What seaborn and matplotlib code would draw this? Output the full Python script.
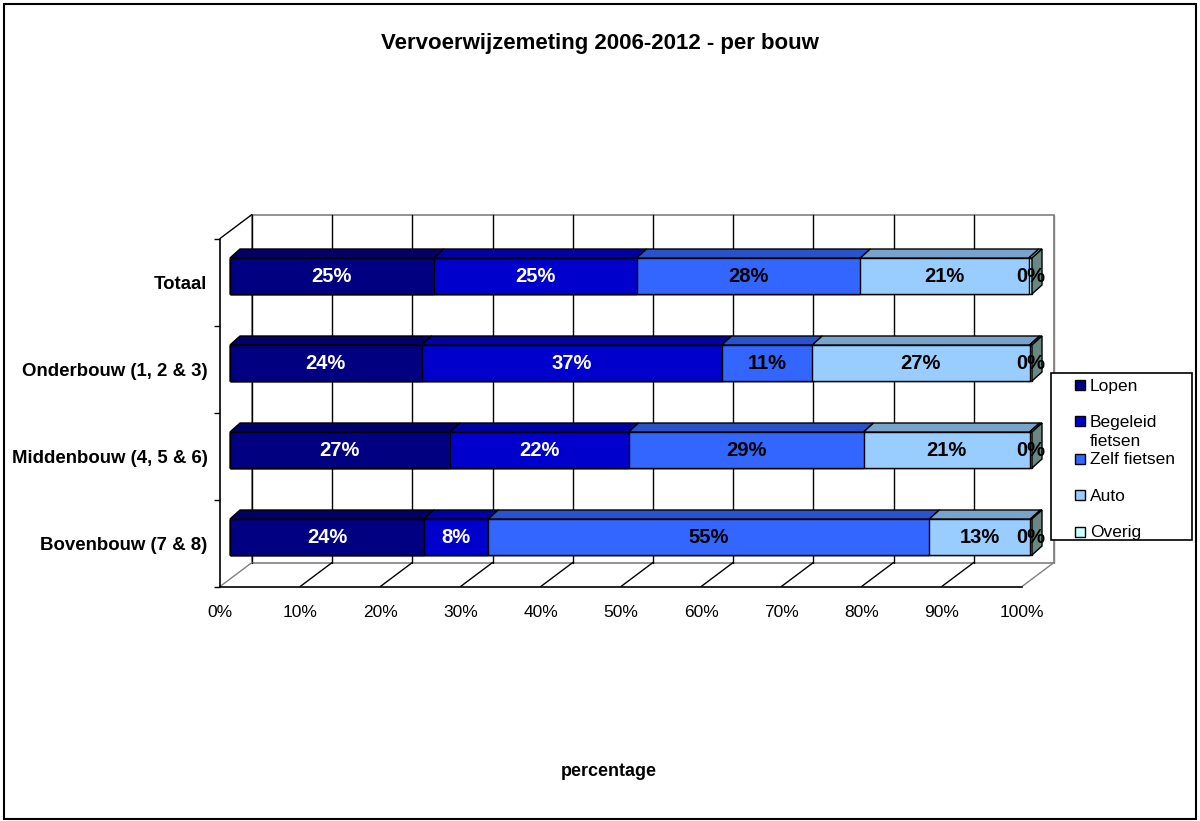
import numpy as np
import pandas as pd
import seaborn as sns
import matplotlib.pyplot as plt
from matplotlib.patches import Polygon, Rectangle

# data (percent per mode, per school section)
categories = ["Totaal", "Onderbouw (1, 2 & 3)", "Middenbouw (4, 5 & 6)", "Bovenbouw (7 & 8)"]
modes = ["Lopen", "Begeleid fietsen", "Zelf fietsen", "Auto", "Overig"]
lopen = [25.4, 23.9, 27.4, 24.2]
begeleid = [25.3, 37.4, 22.3, 8.0]
zelf = [27.9, 11.3, 29.3, 55.0]
auto = [21.0, 27.1, 20.7, 12.6]
overig = [0.4, 0.3, 0.3, 0.2]
xticks = [0, 10, 20, 30, 40, 50, 60, 70, 80, 90, 100]

front_cols = ["#000080", "#0000CC", "#3366FF", "#99CCFF", "#CCFFFF"]
top_cols = ["#000066", "#0000A3", "#2952CC", "#7AA3CC", "#A3CCCC"]
side_col = "#6A8783"
text_cols = ["white", "white", "black", "black", "black"]

df = pd.DataFrame({"bouw": categories, "Lopen": lopen, "Begeleid fietsen": begeleid,
                   "Zelf fietsen": zelf, "Auto": auto, "Overig": overig})
cum = df[modes].cumsum(axis=1)

sns.set_theme(style="white")
plt.rcParams["font.family"] = ["Liberation Sans", "DejaVu Sans"]
plt.rcParams.update({"text.color": "black", "axes.labelcolor": "black",
                     "xtick.color": "black", "ytick.color": "black"})

W, H = 1200, 821
fig = plt.figure(figsize=(W / 100, H / 100), dpi=100)

# pixel layout of the pseudo-3D box
X0, SX = 230, 8.02      # 0% of the bar front face, px per percent
Y0, SY = 276, 87        # first bar centre, px per category
FDX, FDY = -10 / SX, 6 / SY     # frame front plane offset
BDX, BDY = 22 / SX, -18 / SY    # frame back plane offset
DDX, DDY = 10 / SX, -9 / SY     # bar depth
BAR_H = 36 / SY

ax_l, ax_r = X0 - 10, 1075
ax_b = Y0 + SY * 3.5 + 6
ax_t = 200
ax = fig.add_axes([ax_l / W, 1 - ax_b / H, (ax_r - ax_l) / W, (ax_b - ax_t) / H])
ax.set_facecolor("none")

# back wall and floor
bot_f, bot_b = 3.5 + FDY, 3.5 + BDY
top_b = -0.5 + BDY
ax.add_patch(Rectangle((BDX, top_b), 100, 4, facecolor="white", edgecolor="#808080", lw=1.2, zorder=0.5))
for k in xticks:
    c = "black" if k < 100 else "#808080"
    ax.plot([k + BDX, k + BDX], [top_b, bot_b], color=c, lw=1, zorder=1)
    c = "#808080" if k in (0, 100) else "black"
    ax.plot([k + FDX, k + BDX], [bot_f, bot_b], color=c, lw=1, zorder=1)
ax.plot([FDX, BDX], [-0.5 + FDY, top_b], color="black", lw=1, zorder=1)

# bars: overlay cumulative totals, widest first
for j in range(len(modes) - 1, -1, -1):
    sns.barplot(x=cum[modes[j]], y=df["bouw"], orient="h", color=front_cols[j], saturation=1,
                width=BAR_H, edgecolor="black", linewidth=1, errorbar=None, ax=ax, zorder=3)

# top faces, end cap and labels
for i in range(len(categories)):
    top = i - BAR_H / 2
    bot = i + BAR_H / 2
    left = 0
    for j, m in enumerate(modes):
        v = df.loc[i, m]
        right = left + v
        ax.add_patch(Polygon([(left, top), (right, top), (right + DDX, top + DDY), (left + DDX, top + DDY)],
                             closed=True, facecolor=top_cols[j], edgecolor="black", lw=1, zorder=3))
        ax.text(left + v / 2, i, f"{v:.0f}%", ha="center", va="center", fontsize=14.5,
                fontweight="bold", color=text_cols[j], zorder=5)
        left = right
    ax.add_patch(Polygon([(left, top), (left + DDX, top + DDY), (left + DDX, bot + DDY), (left, bot)],
                         closed=True, facecolor=side_col, edgecolor="black", lw=1, zorder=3))

ax.set_xlim((ax_l - X0) / SX, (ax_r - X0) / SX)
ax.set_ylim((ax_b - Y0) / SY, (ax_t - Y0) / SY)

# axes
for s in ["top", "right"]:
    ax.spines[s].set_visible(False)
for s in ["left", "bottom"]:
    ax.spines[s].set_color("black")
    ax.spines[s].set_linewidth(1.2)
ax.spines["left"].set_bounds(-0.5 + FDY, 3.5 + FDY)
ax.spines["bottom"].set_bounds(FDX, 100 + FDX)

ax.set_xticks([k + FDX for k in xticks], [f"{k}%" for k in xticks])
ax.tick_params(axis="x", direction="out", length=5.5, width=1, color="black", labelsize=12.5, pad=8)
ax.set_yticks([i + FDY for i in range(len(categories))], categories)
ax.set_yticks([i - 0.5 + FDY for i in range(len(categories) + 1)], minor=True)
ax.tick_params(axis="y", which="major", length=0, pad=9, labelsize=13.4)
ax.tick_params(axis="y", which="minor", direction="out", length=4.5, width=1, color="black", left=True)
for t in ax.get_yticklabels():
    t.set_fontweight("bold")
ax.set_ylabel("")
ax.set_xlabel("percentage", fontsize=13, fontweight="bold")
ax.xaxis.set_label_coords((609 - ax_l) / (ax_r - ax_l), -(763 - ax_b) / (ax_b - ax_t))

fig.text(600 / W, 1 - 43 / H, "Vervoerwijzemeting 2006-2012 - per bouw", ha="center", va="center",
         fontsize=16, fontweight="bold")

# legend box
def fx(x):
    return x / W

def fy(y):
    return 1 - y / H

fig.add_artist(Rectangle((fx(1051), fy(540)), (1192 - 1051) / W, (540 - 373) / H, transform=fig.transFigure,
                         facecolor="white", edgecolor="black", lw=1.2, zorder=10))
sq_y = [385, 421, 459, 495, 532]
for j, m in enumerate(modes):
    fig.add_artist(Rectangle((fx(1075), fy(sq_y[j] + 5)), 10 / W, 10 / H, transform=fig.transFigure,
                             facecolor=front_cols[j], edgecolor="black", lw=1, zorder=11))
leg_text = [("Lopen", 386), ("Begeleid", 422), ("fietsen", 442), ("Zelf fietsen", 459), ("Auto", 496), ("Overig", 532)]
for s, y in leg_text:
    fig.text(fx(1090), fy(y), s, ha="left", va="center", fontsize=12.5, zorder=12)

# outer border
fig.add_artist(Rectangle((fx(4), fy(819)), 1192 / W, 815 / H, transform=fig.transFigure,
                         facecolor="none", edgecolor="black", lw=1.5))

fig.savefig("out.png", dpi=100)
